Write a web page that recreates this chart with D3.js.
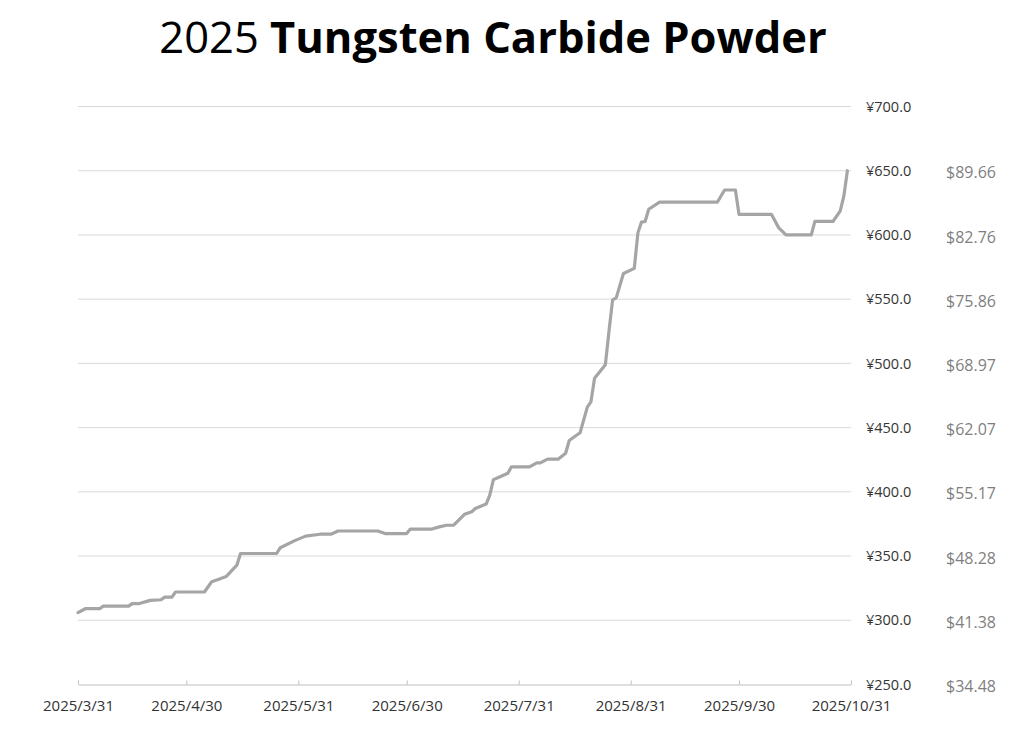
<!DOCTYPE html>
<html>
<head>
<meta charset="utf-8">
<script src="https://cdn.jsdelivr.net/npm/d3@7"></script>
<style>
  html, body { margin: 0; padding: 0; background: #ffffff; }
  svg { display: block; }
</style>
</head>
<body>
<svg id="chart" width="1024" height="737"></svg>
<script>
// ---- data ----
const titleYear = "2025";
const titleMain = "Tungsten Carbide Powder";
const dates = [
  "2025-03-31","2025-04-02","2025-04-06","2025-04-07","2025-04-14","2025-04-15","2025-04-17",
  "2025-04-20","2025-04-23","2025-04-24","2025-04-26","2025-04-27","2025-05-05","2025-05-07",
  "2025-05-09","2025-05-11","2025-05-13","2025-05-14","2025-05-15","2025-05-25","2025-05-26",
  "2025-05-30","2025-06-02","2025-06-06","2025-06-09","2025-06-11","2025-06-22","2025-06-24",
  "2025-06-30","2025-07-01","2025-07-07","2025-07-09","2025-07-11","2025-07-13","2025-07-16",
  "2025-07-18","2025-07-19","2025-07-22","2025-07-23","2025-07-24","2025-07-26","2025-07-28",
  "2025-07-29","2025-08-03","2025-08-05","2025-08-06","2025-08-08","2025-08-11","2025-08-13",
  "2025-08-14","2025-08-16","2025-08-17","2025-08-19","2025-08-20","2025-08-21","2025-08-24",
  "2025-08-25","2025-08-26","2025-08-27","2025-08-29","2025-09-01","2025-09-02","2025-09-03",
  "2025-09-04","2025-09-05","2025-09-08","2025-09-24","2025-09-26","2025-09-29","2025-09-30",
  "2025-10-09","2025-10-11","2025-10-13","2025-10-20","2025-10-21","2025-10-26","2025-10-28",
  "2025-10-29","2025-10-30"
];
const pricesCNY = [
  306,309,309,311,311,313,313,
  315.5,316,318,318,322,322,330,
  332,334,340,343,352,352,356.5,
  362,365.5,367,367,369.5,369.5,367.5,
  367.5,371,371,372.7,374,374,382.5,
  384.5,387,390.5,397.5,409.5,412,414.5,
  419.5,419.5,422.5,422.5,425.5,425.5,430,
  440,444,446,466,470,488.5,499,
  525,549.5,551,570,574,601.5,610,
  610.5,620,625.5,625.5,635,635,616,
  616,605.5,600,600,610.5,610.5,618.5,
  630,650
];
const xTickDates = ["2025-03-31","2025-04-30","2025-05-31","2025-06-30","2025-07-31","2025-08-31","2025-09-30","2025-10-31"];
const yTicksCNY = [250,300,350,400,450,500,550,600,650,700];
const usdLabels = ["$34.48","$41.38","$48.28","$55.17","$62.07","$68.97","$75.86","$82.76","$89.66"];
const usdTickCNY = [250,300,350,400,450,500,550,600,650];

// ---- layout ----
const svg = d3.select("#chart");
const parse = d3.timeParse("%Y-%m-%d");
const data = dates.map((d, i) => ({ date: parse(d), v: pricesCNY[i] }));

const x = d3.scaleTime()
  .domain([parse("2025-03-31"), parse("2025-10-31")])
  .range([78, 851]);
const y = d3.scaleLinear().domain([250, 700]).range([684.5, 106.5]);

// title
const title = svg.append("text")
  .attr("x", 493).attr("y", 53)
  .attr("text-anchor", "middle")
  .attr("font-family", "'Open Sans', 'Noto Sans', sans-serif")
  .attr("font-size", 43.5)
  .attr("fill", "#000");
title.append("tspan").attr("font-weight", "normal").text(titleYear + " ");
title.append("tspan").attr("font-weight", "bold").text(titleMain);

// gridlines
svg.append("g").selectAll("line")
  .data(yTicksCNY.filter(d => d !== 250))
  .join("line")
  .attr("x1", 78).attr("x2", 851)
  .attr("y1", d => y(d)).attr("y2", d => y(d))
  .attr("stroke", "#d9d9d9").attr("stroke-width", 1);

// x axis
const xAxis = d3.axisBottom(x)
  .tickValues(xTickDates.map(parse))
  .tickFormat(d => d3.timeFormat("%Y/%-m/%-d")(d))
  .tickSizeInner(-4).tickSizeOuter(0).tickPadding(16);
const gx = svg.append("g").attr("transform", `translate(0,${y(250)})`).call(xAxis);
gx.select(".domain").attr("stroke", "#bfbfbf");
gx.selectAll(".tick line").attr("stroke", "#bfbfbf");
gx.selectAll("text")
  .attr("font-family", "'Open Sans', sans-serif")
  .attr("font-size", 15)
  .attr("fill", "#333333");

// right CNY axis (no line)
const yAxis = d3.axisRight(y).tickValues(yTicksCNY)
  .tickFormat(d => "¥" + d3.format(".1f")(d))
  .tickSize(0).tickPadding(15);
const gy = svg.append("g").attr("transform", "translate(851,0)").call(yAxis);
gy.select(".domain").remove();
gy.selectAll("text")
  .attr("font-family", "'Open Sans', sans-serif")
  .attr("font-size", 14.5)
  .attr("fill", "#333333");

// USD labels
const yUsd = d3.axisRight(y).tickValues(usdTickCNY)
  .tickFormat((d, i) => usdLabels[i])
  .tickSize(0).tickPadding(95);
const gu = svg.append("g").attr("transform", "translate(851,2)").call(yUsd);
gu.select(".domain").remove();
gu.selectAll("text")
  .attr("font-family", "'Open Sans', sans-serif")
  .attr("font-size", 16)
  .attr("fill", "#7f7f7f");

// line
const line = d3.line().x(d => x(d.date)).y(d => y(d.v));
svg.append("path")
  .datum(data)
  .attr("d", line)
  .attr("fill", "none")
  .attr("stroke", "#a5a5a5")
  .attr("stroke-width", 3.2)
  .attr("stroke-linejoin", "round")
  .attr("stroke-linecap", "round");
</script>
</body>
</html>
